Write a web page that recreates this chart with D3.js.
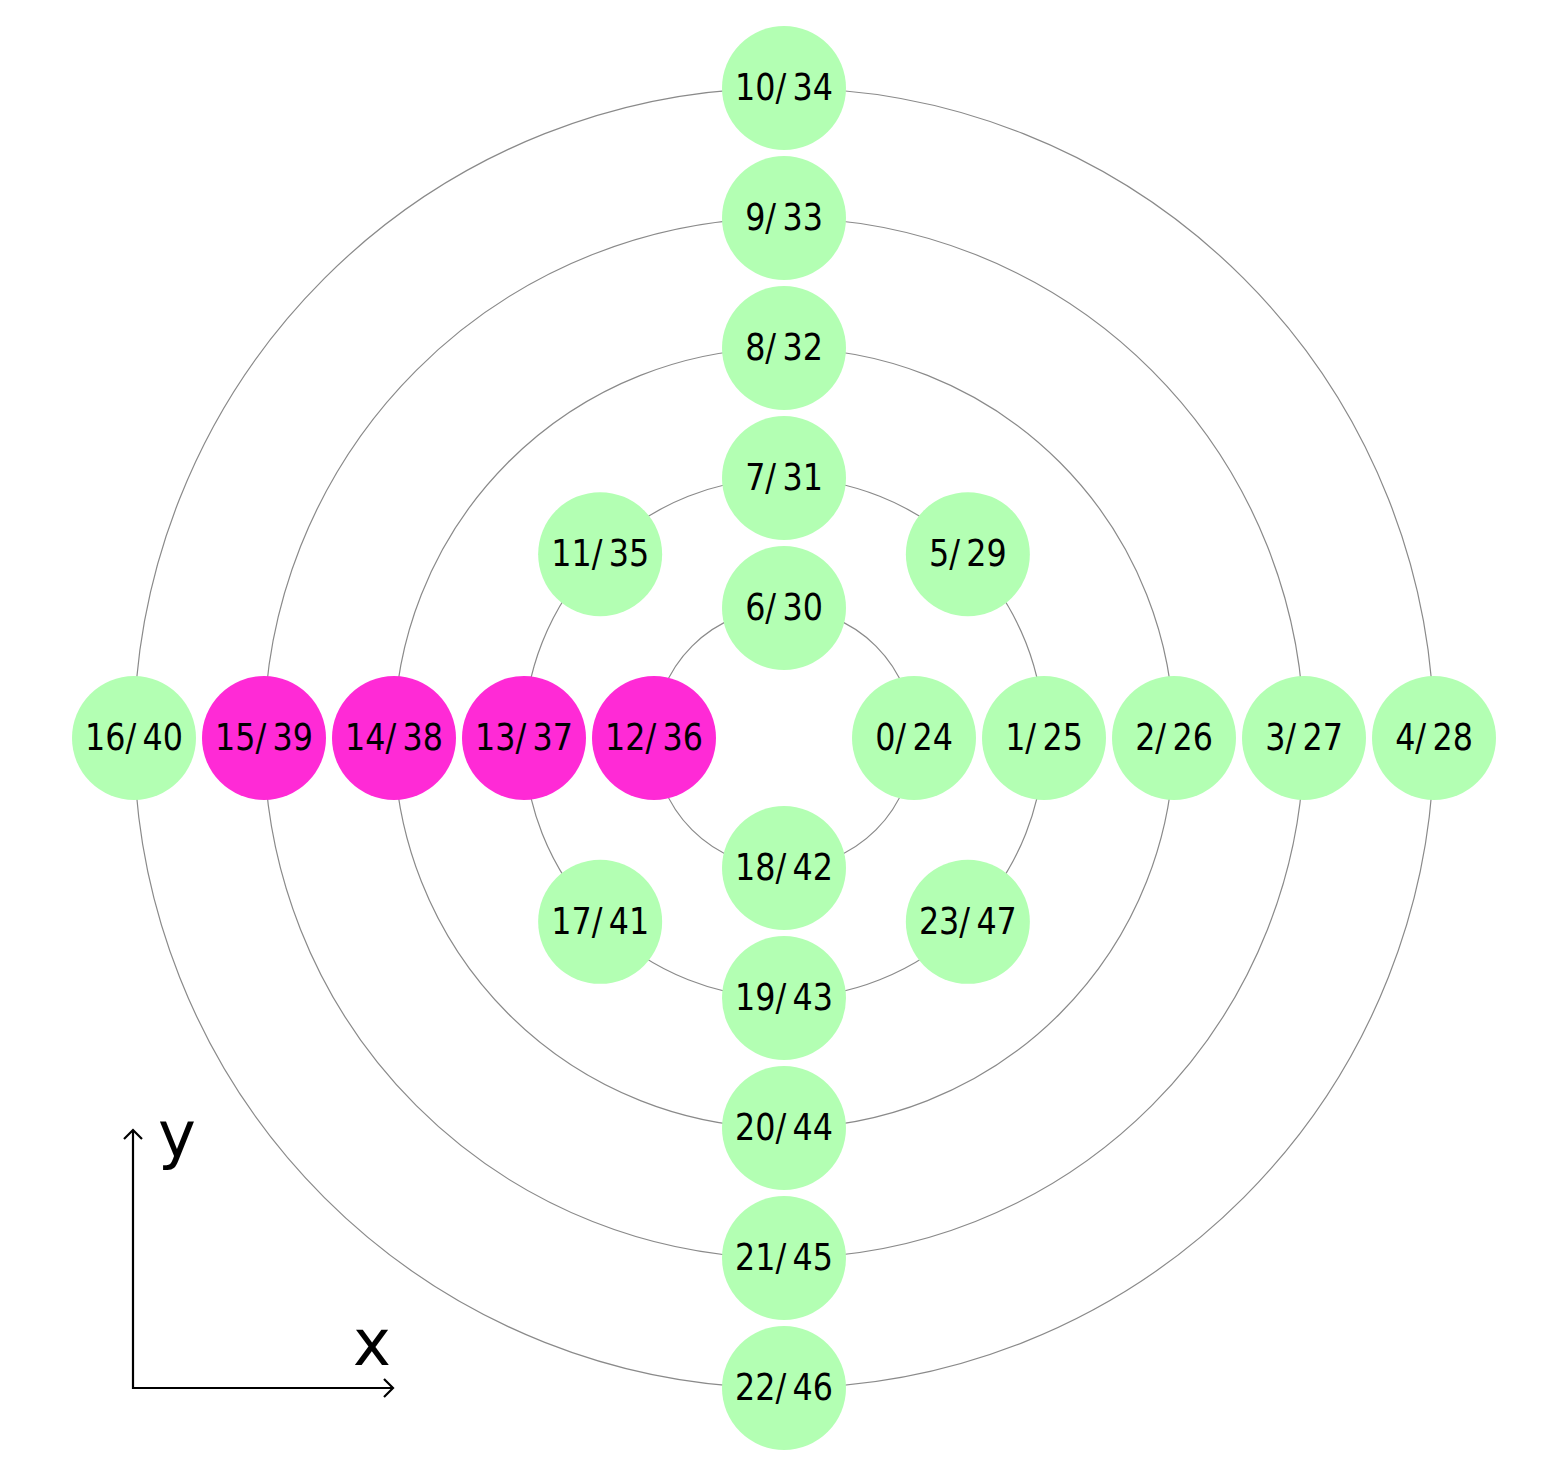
<!DOCTYPE html>
<meta charset="utf-8">
<style>
    body { margin: 0; background: #fff; }
    .ring { fill: none; stroke: #8a8a8a; stroke-width: 1.2px; }
    .node text { font-family: "DejaVu Sans Condensed", "DejaVu Sans", sans-serif; font-size: 38px; fill: #000; }
    .axis-line { stroke: #000; stroke-width: 2.2px; fill: none; }
    .axis-label { font-family: "DejaVu Sans", sans-serif; font-size: 64px; fill: #000; }
</style>
<svg width="1545" height="1457"></svg>
<script src="https://d3js.org/d3.v7.min.js"></script>
<script>

    // node data: label, ring (1..5) and angle in degrees
    var labels = ["0/24", "1/25", "2/26", "3/27", "4/28", "5/29", "6/30", "7/31", "8/32", "9/33",
        "10/34", "11/35", "12/36", "13/37", "14/38", "15/39", "16/40", "17/41", "18/42", "19/43",
        "20/44", "21/45", "22/46", "23/47"];
    var rings = [1, 2, 3, 4, 5, 2, 1, 2, 3, 4, 5, 2, 1, 2, 3, 4, 5, 2, 1, 2, 3, 4, 5, 2];
    var angles = [0, 0, 0, 0, 0, 45, 90, 90, 90, 90, 90, 135, 180, 180, 180, 180, 180, 225, 270, 270, 270, 270, 270, 315];
    var highlighted = ["12/36", "13/37", "14/38", "15/39"];
    var ringLevels = [1, 2, 3, 4, 5];

    var svg = d3.select("svg"),
        cx = 784, cy = 738;

    var r = d3.scaleLinear().domain([0, 5]).range([0, 650]);
    var nodeR = 62;

    var nodes = labels.map(function (d, i) {
        var a = angles[i] * Math.PI / 180;
        return {
            label: d,
            x: cx + r(rings[i]) * Math.cos(a),
            y: cy - r(rings[i]) * Math.sin(a),
            hot: highlighted.indexOf(d) >= 0
        };
    });

    svg.selectAll(".ring")
        .data(ringLevels)
        .enter().append("circle")
        .attr("class", "ring")
        .attr("cx", cx)
        .attr("cy", cy)
        .attr("r", function (d) { return r(d); });

    var node = svg.selectAll(".node")
        .data(nodes)
        .enter().append("g")
        .attr("class", "node")
        .attr("transform", function (d) { return "translate(" + d.x + "," + d.y + ")"; });

    node.append("circle")
        .attr("r", nodeR)
        .style("fill", function (d) { return d.hot ? "#ff2ad6" : "#b3ffb3"; });

    // labels are a touch narrower than the condensed face
    node.append("text")
        .attr("text-anchor", "middle")
        .attr("transform", "scale(0.93,1)")
        .attr("dy", "0.31em")
        .text(function (d) { return d.label.replace("/", "/\u2009"); });

    // little x/y axes in the corner
    var ox = 133, oy = 1388;
    var ax = svg.append("g");
    ax.append("path").attr("class", "axis-line")
        .attr("d", "M" + ox + "," + (oy + 1) + "V1130M" + (ox - 9) + ",1139L" + ox + ",1130L" + (ox + 9) + ",1139");
    ax.append("path").attr("class", "axis-line")
        .attr("d", "M" + (ox - 1) + "," + oy + "H393M384," + (oy - 9) + "L393," + oy + "L384," + (oy + 9));
    ax.append("text").attr("class", "axis-label")
        .attr("x", 158).attr("y", 1157).text("y");
    ax.append("text").attr("class", "axis-label")
        .attr("x", 353).attr("y", 1365).text("x");

</script>
